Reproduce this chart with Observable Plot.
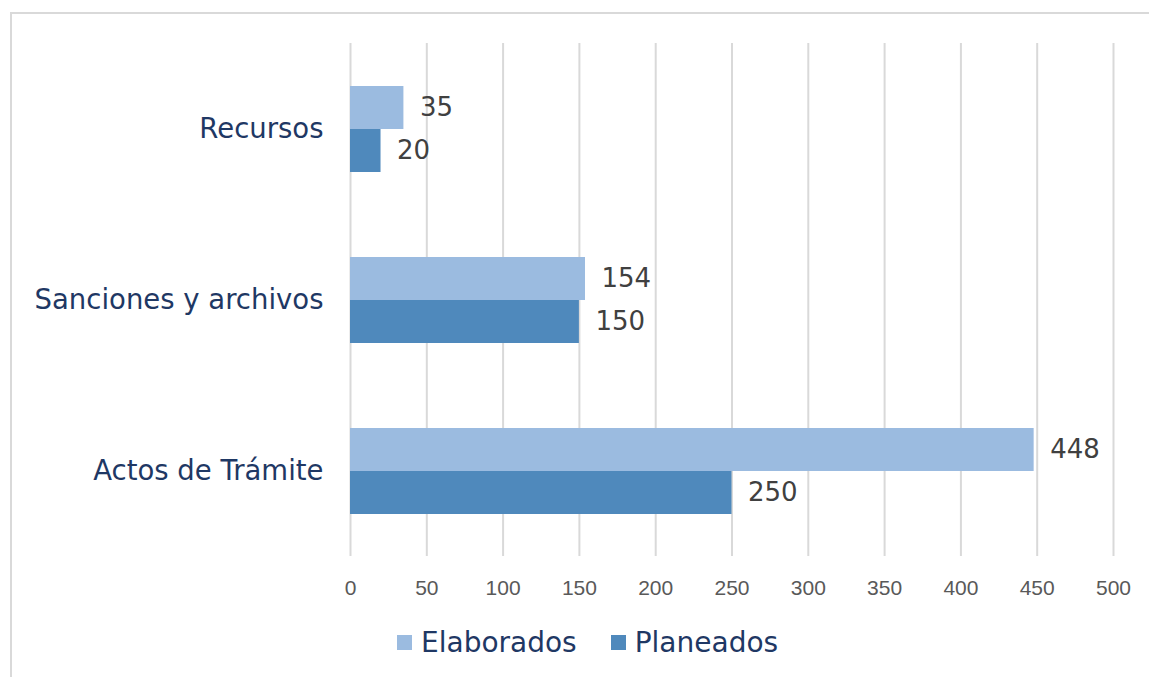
<!DOCTYPE html>
<html>
<head>
<meta charset="utf-8">
<script src="https://cdn.jsdelivr.net/npm/d3@7"></script>
<script src="https://cdn.jsdelivr.net/npm/@observablehq/plot@0.6"></script>
<style>
  html, body { margin: 0; padding: 0; background: #fff; }
  body { width: 1149px; height: 677px; position: relative; overflow: hidden; }
  #frame { position: absolute; left: 10px; top: 12px; width: 1200px; height: 720px;
           border-top: 2px solid #d9d9d9; border-left: 2px solid #d9d9d9; box-sizing: border-box; }
  #chart { position: absolute; left: 0; top: 0; }
  #legend { position: absolute; left: 397px; top: 626px; display: flex; align-items: center;
            font-family: "DejaVu Sans", sans-serif; font-size: 28px; color: #1F3864; }
  #legend .item { display: flex; align-items: center; margin-right: 34px; }
  #legend .sw { width: 15px; height: 15px; margin-right: 9px; }
</style>
</head>
<body>
<div id="frame"></div>
<div id="chart"></div>
<div id="legend"></div>
<script>
const categories = ["Recursos", "Sanciones y archivos", "Actos de Trámite"];
const series = ["Elaborados", "Planeados"];
const elaborados = [35, 154, 448];
const planeados = [20, 150, 250];
const xTicks = [0, 50, 100, 150, 200, 250, 300, 350, 400, 450, 500];
const colors = ["#9BBBE0", "#4F89BC"];

const data = [];
categories.forEach((c, i) => {
  data.push({category: c, series: series[0], value: elaborados[i]});
  data.push({category: c, series: series[1], value: planeados[i]});
});

const chart = Plot.plot({
  width: 1149,
  height: 620,
  marginLeft: 350,
  marginRight: 36,
  marginTop: 42,
  marginBottom: 64,
  style: {background: "transparent", overflow: "visible"},
  x: {domain: [0, 500], ticks: xTicks, label: null},
  y: {domain: series, paddingInner: 0, paddingOuter: 0.945, axis: null},
  fy: {domain: categories, padding: 0, label: null},
  color: {domain: series, range: colors},
  marks: [
    Plot.gridX(xTicks, {stroke: "#d9d9d9", strokeWidth: 2, strokeOpacity: 1}),
    Plot.axisX(xTicks, {tickSize: 0, tickPadding: 24, fontSize: 21, fill: "#595959",
      fontFamily: "Liberation Sans, sans-serif", label: null, facetAnchor: "bottom"}),
    Plot.axisFy({tickSize: 0, tickPadding: 27, fontSize: 27.5, fill: "#1F3864",
      fontFamily: "DejaVu Sans, sans-serif", label: null, anchor: "left"}),
    Plot.barX(data, {x: "value", y: "series", fy: "category", fill: "series"}),
    Plot.text(data, {x: "value", y: "series", fy: "category", text: d => String(d.value),
      textAnchor: "start", dx: 16, fontSize: 26, fill: "#404040",
      fontFamily: "DejaVu Sans, sans-serif"})
  ]
});
document.getElementById("chart").appendChild(chart);

const legend = document.getElementById("legend");
series.forEach((s, i) => {
  const item = document.createElement("div");
  item.className = "item";
  const sw = document.createElement("div");
  sw.className = "sw";
  sw.style.background = colors[i];
  const t = document.createElement("span");
  t.textContent = s;
  item.appendChild(sw);
  item.appendChild(t);
  legend.appendChild(item);
});
</script>
</body>
</html>
